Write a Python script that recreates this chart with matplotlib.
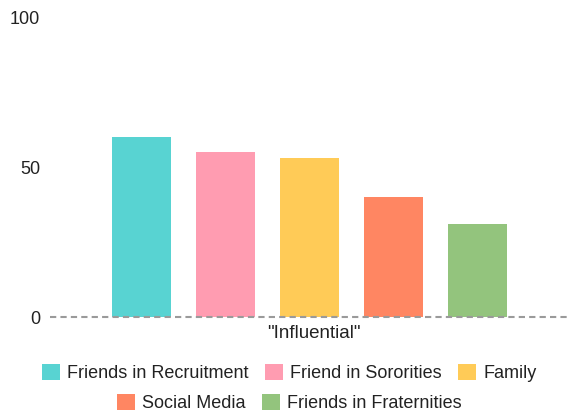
import matplotlib.pyplot as plt
from matplotlib.patches import Patch

plt.rcParams["font.family"] = ["Liberation Sans", "DejaVu Sans"]

category = '"Influential"'
series_names = [
    "Friends in Recruitment",
    "Friend in Sororities",
    "Family",
    "Social Media",
    "Friends in Fraternities",
]
series_values = [60, 55, 53, 40, 31]
colors = ["#58d3d2", "#ff9cb1", "#ffcb57", "#ff8662", "#93c47d"]
y_ticks = [0, 50, 100]

fig = plt.figure(figsize=(5.69, 4.16), dpi=100)
ax = fig.add_axes([50 / 569, (416 - 317) / 416, 519 / 569, 300 / 416])

n = len(series_values)
step = 84 / 519
width = 59 / 519
for i, (name, val, col) in enumerate(zip(series_names, series_values, colors)):
    x = (i - (n - 1) / 2) * step
    ax.bar(x, val, width=width, color=col, label=name, zorder=2)

ax.set_xlim(-0.5, 0.5)
ax.set_ylim(0, 100)
ax.set_yticks(y_ticks)
ax.set_yticklabels([str(t) for t in y_ticks], fontsize=13, color="#222222")
ax.tick_params(axis="y", length=0, pad=7)
ax.set_xticks([])
ax.axhline(0, color="#9a9a9a", linestyle=(0, (3, 2)), linewidth=1.5, zorder=3, clip_on=False)
for s in ax.spines.values():
    s.set_visible(False)

fig.text(314 / 569, 1 - 333 / 416, category, ha="center", va="center",
         fontsize=13.5, color="#222222")

handles = [Patch(facecolor=c, edgecolor="none") for c in colors]
common = dict(frameon=False, fontsize=13, handlelength=1.0, handleheight=0.95,
              handletextpad=0.4, columnspacing=0.9, borderpad=0)
leg1 = fig.legend(handles[:3], series_names[:3], ncol=3, loc="center",
                  bbox_to_anchor=(289.5 / 569, 1 - 373 / 416), **common)
for t in leg1.get_texts():
    t.set_color("#222222")
leg2 = fig.legend(handles[3:], series_names[3:], ncol=2, loc="center",
                  bbox_to_anchor=(289.5 / 569, 1 - 403 / 416), **common)
for t in leg2.get_texts():
    t.set_color("#222222")

fig.savefig("out.png", dpi=100)
